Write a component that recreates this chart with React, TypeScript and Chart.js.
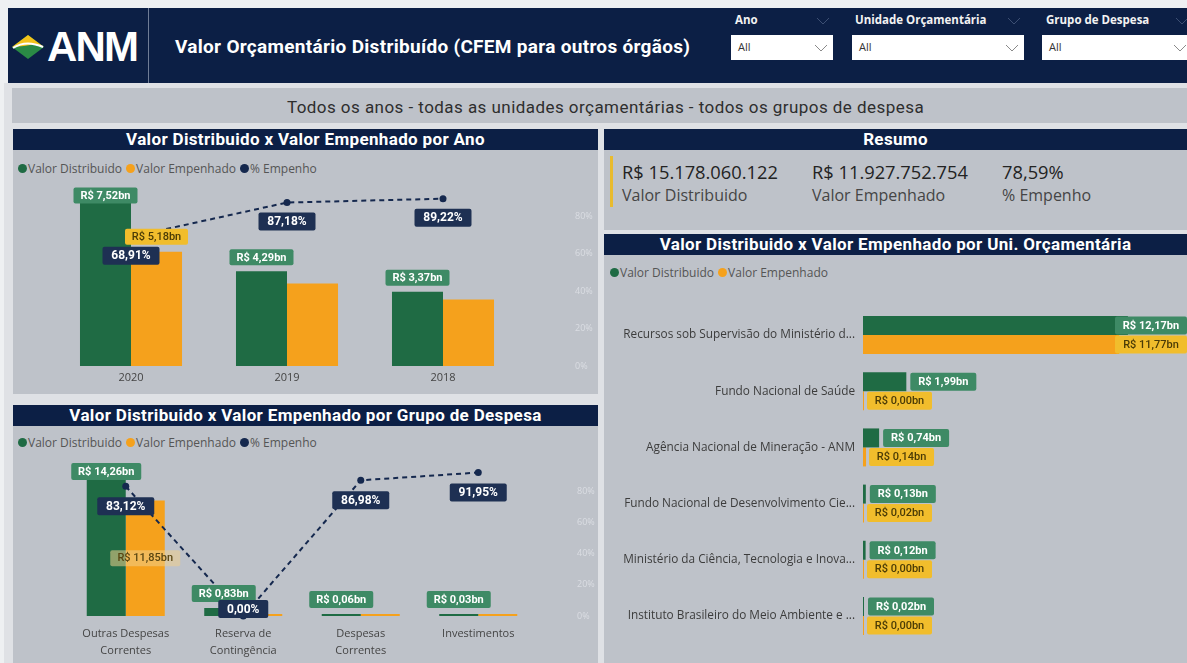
import React, { useEffect, useRef } from "react";
import { Chart, registerables } from "chart.js";

Chart.register(...registerables);

// ---------------- data ----------------
const anos = ["2020", "2019", "2018"];
const anoDistribuido = [7.52, 4.29, 3.37];
const anoEmpenhado = [5.18, 3.74, 3.01];
const anoPctEmpenho = [68.91, 87.18, 89.22];

const grupos = [["Outras Despesas", "Correntes"], ["Reserva de", "Contingência"], ["Despesas", "Correntes"], "Investimentos"];
const grupoDistribuido = [14.26, 0.83, 0.06, 0.03];
const grupoEmpenhado = [11.85, 0.0, 0.05, 0.03];
const grupoPctEmpenho = [83.12, 0.0, 86.98, 91.95];

const unidades = [
  "Recursos sob Supervisão do Ministério d...",
  "Fundo Nacional de Saúde",
  "Agência Nacional de Mineração - ANM",
  "Fundo Nacional de Desenvolvimento Cie...",
  "Ministério da Ciência, Tecnologia e Inova...",
  "Instituto Brasileiro do Meio Ambiente e ...",
];
const unidadeDistribuido = [12.17, 1.99, 0.74, 0.13, 0.12, 0.02];
const unidadeEmpenhado = [11.77, 0.0, 0.14, 0.02, 0.0, 0.0];

const pctTicks = [0, 20, 40, 60, 80];
const resumoValores = ["R$ 15.178.060.122", "R$ 11.927.752.754", "78,59%"];
const resumoRotulos = ["Valor Distribuido", "Valor Empenhado", "% Empenho"];
const filtros = ["Ano", "Unidade Orçamentária", "Grupo de Despesa"];
const legendaSeries = ["Valor Distribuido", "Valor Empenhado", "% Empenho"];

// ---------------- styles ----------------
const NAVY = "#0c1f45";
const GREEN = "#1f6b44";
const ORANGE = "#f5a11c";
const LINE = "#15284e";
const PANEL = "#bec2c9";
const SANS = '"Open Sans", sans-serif';
const DIN = 'Roboto, sans-serif';

const fmtBn = (v: number) => "R$ " + v.toFixed(2).replace(".", ",") + "bn";
const fmtPct = (v: number) => v.toFixed(2).replace(".", ",") + "%";

const greenLabel = { font: `700 11px ${DIN}`, bg: "#3e8a65", color: "#ffffff", padX: 7, h: 16 };
const orangeLabel = { font: `500 11px ${DIN}`, bg: "#f1bd2c", color: "#4a3b06", padX: 7, h: 16 };
const navyLabel = { font: `700 12px ${DIN}`, bg: "#1e3053", color: "#ffffff", padX: 9, h: 18 };

const boxLabelPlugin = {
  id: "boxLabels",
  afterDatasetsDraw(chart: any) {
    const { ctx, chartArea } = chart;
    const list = chart.data.datasets
      .map((ds: any, i: number) => ({ ds, i }))
      .filter((d: any) => d.ds.boxLabel)
      .sort((a: any, b: any) => a.ds.boxLabel.z - b.ds.boxLabel.z);
    list.forEach(({ ds, i }: any) => {
      const L = ds.boxLabel;
      const meta = chart.getDatasetMeta(i);
      meta.data.forEach((el: any, j: number) => {
        const v = ds.data[j] as number;
        if (L.min !== undefined && v < L.min) return;
        if (L.only && !L.only.includes(j)) return;
        const text = L.fmt(v);
        ctx.save();
        ctx.font = L.font;
        const w = Math.round(ctx.measureText(text).width + L.padX * 2);
        const h = L.h;
        let x = el.x - w / 2;
        let y = 0;
        if (L.mode === "above") {
          y = Math.max(el.y - L.gap - h, chartArea.top + (L.clampTop ?? 0));
        } else if (L.mode === "below") {
          y = Math.min(el.y + L.gap, chartArea.bottom + (L.clampBottom ?? 0) - h);
        } else if (L.mode === "center") {
          y = (el.y + el.base) / 2 - h / 2;
        } else {
          x = el.x + L.gap;
          y = el.y - h / 2;
          if (x + w > chart.width) x = chart.width - w;
        }
        ctx.fillStyle = L.bg;
        ctx.beginPath();
        (ctx as any).roundRect(x, y, w, h, 2);
        ctx.fill();
        ctx.fillStyle = L.color;
        ctx.textAlign = "center";
        ctx.textBaseline = "middle";
        ctx.fillText(text, x + w / 2, y + h / 2 + 0.5);
        ctx.restore();
      });
    });
  },
};

function useChart(ref: React.RefObject<HTMLCanvasElement>, make: () => any) {
  useEffect(() => {
    const c = new Chart(ref.current as HTMLCanvasElement, make());
    return () => c.destroy();
  }, []);
}

const pctAxis = (padding: number, width: number) => ({
  position: "right",
  min: 0,
  max: 100,
  grid: { display: false, drawTicks: false },
  border: { display: false },
  ticks: {
    stepSize: 20,
    padding,
    color: "rgba(236,239,243,0.6)",
    font: { family: SANS, size: 9 },
    callback: (v: any) => (pctTicks.includes(v) ? v + "%" : ""),
  },
  afterFit: (s: any) => {
    s.width = width;
    s.paddingTop = 0;
    s.paddingBottom = 0;
  },
});

function AnoChart() {
  const ref = useRef<HTMLCanvasElement>(null);
  useChart(ref, () => ({
    type: "bar",
    data: {
      labels: anos,
      datasets: [
        {
          type: "line",
          label: legendaSeries[2],
          data: anoPctEmpenho,
          yAxisID: "y1",
          order: 0,
          borderColor: LINE,
          backgroundColor: LINE,
          borderWidth: 2,
          borderDash: [5, 4],
          pointRadius: 3.5,
          pointBackgroundColor: LINE,
          pointBorderWidth: 0,
          boxLabel: { ...navyLabel, mode: "below", gap: 10, z: 3, fmt: fmtPct, clampBottom: 2 },
        },
        {
          label: legendaSeries[0],
          data: anoDistribuido,
          yAxisID: "y",
          order: 1,
          backgroundColor: GREEN,
          categoryPercentage: 0.654,
          barPercentage: 1,
          boxLabel: { ...greenLabel, mode: "above", gap: 6, z: 1, fmt: fmtBn, clampTop: 9 },
        },
        {
          label: legendaSeries[1],
          data: anoEmpenhado,
          yAxisID: "y",
          order: 1,
          backgroundColor: ORANGE,
          categoryPercentage: 0.654,
          barPercentage: 1,
          boxLabel: { ...orangeLabel, mode: "above", gap: 7, z: 2, fmt: fmtBn, clampTop: 9, only: [0] },
        },
      ],
    },
    options: {
      responsive: false,
      animation: false,
      layout: { padding: { top: 29.5, left: 40, right: 0, bottom: 0 } },
      plugins: { legend: { display: false }, tooltip: { enabled: false } },
      scales: {
        x: {
          grid: { display: false, drawTicks: false },
          border: { display: false },
          ticks: { color: "#444", padding: 5.5, font: { family: SANS, size: 11, lineHeight: 1.2 } },
          afterFit: (s: any) => {
            s.height = 27;
          },
        },
        y: { display: false, min: 0, max: 8.5 },
        y1: pctAxis(54, 77),
      },
    },
    plugins: [boxLabelPlugin],
  }));
  return <canvas ref={ref} width={585} height={244} style={{ position: "absolute", left: 13, top: 149 }} />;
}

function GrupoChart() {
  const ref = useRef<HTMLCanvasElement>(null);
  useChart(ref, () => ({
    type: "bar",
    data: {
      labels: grupos,
      datasets: [
        {
          type: "line",
          label: legendaSeries[2],
          data: grupoPctEmpenho,
          yAxisID: "y1",
          order: 0,
          borderColor: LINE,
          backgroundColor: LINE,
          borderWidth: 2,
          borderDash: [5, 4],
          pointRadius: 3.5,
          pointBackgroundColor: LINE,
          pointBorderWidth: 0,
          clip: false,
          boxLabel: { ...navyLabel, mode: "below", gap: 11, z: 3, fmt: fmtPct, clampBottom: 2 },
        },
        {
          label: legendaSeries[0],
          data: grupoDistribuido,
          yAxisID: "y",
          order: 1,
          backgroundColor: GREEN,
          categoryPercentage: 0.664,
          barPercentage: 1,
          minBarLength: 2,
          boxLabel: { ...greenLabel, h: 17, mode: "above", gap: 6, z: 1, fmt: fmtBn, clampTop: 3 },
        },
        {
          label: legendaSeries[1],
          data: grupoEmpenhado,
          yAxisID: "y",
          order: 1,
          backgroundColor: ORANGE,
          categoryPercentage: 0.664,
          barPercentage: 1,
          minBarLength: 2,
          boxLabel: {
            ...orangeLabel,
            bg: "rgba(238,208,140,0.55)",
            color: "#5a4612",
            mode: "center",
            gap: 0,
            z: 2,
            min: 1,
            fmt: fmtBn,
          },
        },
      ],
    },
    options: {
      responsive: false,
      animation: false,
      layout: { padding: { top: 35, left: 54, right: 0, bottom: 0 } },
      plugins: { legend: { display: false }, tooltip: { enabled: false } },
      scales: {
        x: {
          grid: { display: false, drawTicks: false },
          border: { display: false },
          ticks: {
            color: "#444",
            padding: 9.5,
            maxRotation: 0,
            autoSkip: false,
            font: { family: SANS, size: 11, lineHeight: 1.55 },
          },
          afterFit: (s: any) => {
            s.height = 47;
          },
        },
        y: { display: false, min: 0, max: 16 },
        y1: pctAxis(40, 61),
      },
    },
    plugins: [boxLabelPlugin],
  }));
  return <canvas ref={ref} width={585} height={238} style={{ position: "absolute", left: 13, top: 425 }} />;
}

function UnidadeChart() {
  const ref = useRef<HTMLCanvasElement>(null);
  useChart(ref, () => ({
    type: "bar",
    data: {
      labels: unidades,
      datasets: [
        {
          label: legendaSeries[0],
          data: unidadeDistribuido,
          backgroundColor: GREEN,
          categoryPercentage: 0.676,
          barPercentage: 1,
          minBarLength: 1,
          boxLabel: { ...greenLabel, h: 18, padX: 8, mode: "right", gap: 4, z: 1, fmt: fmtBn },
        },
        {
          label: legendaSeries[1],
          data: unidadeEmpenhado,
          backgroundColor: ORANGE,
          categoryPercentage: 0.676,
          barPercentage: 1,
          minBarLength: 1,
          boxLabel: { ...orangeLabel, h: 18, padX: 8, mode: "right", gap: 3, z: 2, fmt: fmtBn },
        },
      ],
    },
    options: {
      indexAxis: "y",
      responsive: false,
      animation: false,
      layout: { padding: { top: 53, left: 0, right: 4, bottom: 19 } },
      plugins: { legend: { display: false }, tooltip: { enabled: false } },
      scales: {
        x: { display: false, min: 0, max: 14.7 },
        y: {
          grid: { display: false, drawTicks: false },
          border: { display: false },
          ticks: { color: "#3c3c3c", padding: 8, autoSkip: false, font: { family: SANS, size: 11.8 } },
          afterFit: (s: any) => {
            s.width = 258;
            s.paddingTop = 0;
            s.paddingBottom = 0;
          },
        },
      },
    },
    plugins: [boxLabelPlugin],
  }));
  return <canvas ref={ref} width={582} height={409} style={{ position: "absolute", left: 605, top: 254 }} />;
}

// ---------------- layout pieces ----------------
function Legend({ left, top, n }: { left: number; top: number; n: number }) {
  const colors = [GREEN, ORANGE, LINE];
  return (
    <div
      style={{
        position: "absolute",
        left,
        top: top - 8,
        height: 16,
        display: "flex",
        alignItems: "center",
        fontFamily: SANS,
        fontSize: 12,
        color: "#555",
        whiteSpace: "nowrap",
      }}
    >
      {legendaSeries.slice(0, n).map((l, i) => (
        <span key={l} style={{ display: "flex", alignItems: "center", marginRight: 4 }}>
          <span style={{ width: 9, height: 9, borderRadius: "50%", background: colors[i], marginRight: 1 }} />
          {l}
        </span>
      ))}
    </div>
  );
}

function TitleBar({ left, top, width, text }: { left: number; top: number; width: number; text: string }) {
  return (
    <div
      style={{
        position: "absolute",
        left,
        top,
        width,
        height: 21,
        background: NAVY,
        color: "#fff",
        fontFamily: DIN,
        fontWeight: 700,
        fontSize: 17,
        letterSpacing: 0.35,
        lineHeight: "21px",
        textAlign: "center",
        whiteSpace: "nowrap",
      }}
    >
      {text}
    </div>
  );
}

function Box({ left, top, width, height, bg }: any) {
  return <div style={{ position: "absolute", left, top, width, height, background: bg }} />;
}

function Chevron({ left, top, color }: { left: number; top: number; color: string }) {
  return (
    <svg width={14} height={8} style={{ position: "absolute", left, top }}>
      <polyline points="1,1 7,7 13,1" fill="none" stroke={color} strokeWidth={1} />
    </svg>
  );
}

export default function App() {
  const filterLabelX = [735, 855, 1046];
  const filterBox = [
    [731, 102],
    [852, 172],
    [1042, 150],
  ];
  const resumoX = [622, 812, 1002];
  return (
    <div
      style={{
        position: "relative",
        width: 1187,
        height: 663,
        overflow: "hidden",
        background: "#eef0f2",
        fontFamily: SANS,
      }}
    >
      <style>{`body{margin:0;background:#eef0f2;}`}</style>
      {/* header */}
      <Box left={8} top={8} width={1179} height={75} bg={NAVY} />
      <svg width={36} height={26} style={{ position: "absolute", left: 10, top: 34 }}>
        <polygon points="2,13 18,1 34,13 18,25" fill="#2a8a45" />
        <polygon points="2,13 18,1 34,13 26,10 14,12" fill="#f3c21a" />
        <path d="M3,14 C12,8 22,8 33,13" fill="none" stroke="#ffffff" strokeWidth={2} />
      </svg>
      <div
        style={{
          position: "absolute",
          left: 47,
          top: 23,
          color: "#fff",
          fontFamily: '"Liberation Sans", Arial, sans-serif',
          fontWeight: 700,
          fontSize: 42,
          lineHeight: "48px",
          letterSpacing: -1.8,
        }}
      >
        ANM
      </div>
      <Box left={148} top={8} width={1} height={75} bg="#6f7c96" />
      <div
        style={{
          position: "absolute",
          left: 175,
          top: 34,
          color: "#fff",
          fontFamily: DIN,
          fontWeight: 700,
          fontSize: 19,
          letterSpacing: 0.3,
          lineHeight: "26px",
          whiteSpace: "nowrap",
        }}
      >
        Valor Orçamentário Distribuído (CFEM para outros órgãos)
      </div>
      {filtros.map((f, i) => (
        <React.Fragment key={f}>
          <div
            style={{
              position: "absolute",
              left: filterLabelX[i],
              top: 12,
              color: "#f2f2f2",
              fontFamily: SANS,
              fontWeight: 700,
              fontSize: 11.5,
              lineHeight: "16px",
              whiteSpace: "nowrap",
            }}
          >
            {f}
          </div>
          <Chevron left={filterBox[i][0] + filterBox[i][1] - 17} top={17} color="#3d4f73" />
          <Box left={filterBox[i][0]} top={35} width={filterBox[i][1]} height={25} bg="#ffffff" />
          <div
            style={{
              position: "absolute",
              left: filterBox[i][0] + 7,
              top: 39,
              fontSize: 11,
              lineHeight: "16px",
              color: "#333",
            }}
          >
            All
          </div>
          <Chevron left={filterBox[i][0] + filterBox[i][1] - 19} top={44} color="#8a8a8a" />
        </React.Fragment>
      ))}

      {/* report body */}
      <Box left={4} top={83} width={1183} height={580} bg="#dfe1e5" />
      <Box left={12} top={88} width={1175} height={35} bg={PANEL} />
      <div
        style={{
          position: "absolute",
          left: 12,
          top: 95,
          width: 1187,
          textAlign: "center",
          fontFamily: DIN,
          fontSize: 17,
          letterSpacing: 0.45,
          lineHeight: "24px",
          color: "#2e2e2e",
          whiteSpace: "nowrap",
        }}
      >
        Todos os anos - todas as unidades orçamentárias - todos os grupos de despesa
      </div>

      {/* top-left panel */}
      <TitleBar left={13} top={129} width={585} text="Valor Distribuido x Valor Empenhado por Ano" />
      <Box left={13} top={150} width={585} height={244} bg={PANEL} />
      <Legend left={18} top={168} n={3} />
      <AnoChart />

      {/* bottom-left panel */}
      <TitleBar left={13} top={405} width={585} text="Valor Distribuido x Valor Empenhado por Grupo de Despesa" />
      <Box left={13} top={426} width={585} height={237} bg={PANEL} />
      <Legend left={18} top={442} n={3} />
      <GrupoChart />

      {/* resumo */}
      <TitleBar left={604} top={129} width={583} text="Resumo" />
      <Box left={604} top={150} width={583} height={80} bg={PANEL} />
      <Box left={610} top={156} width={3} height={51} bg="#e9bb2e" />
      {resumoValores.map((v, i) => (
        <React.Fragment key={v}>
          <div
            style={{
              position: "absolute",
              left: resumoX[i],
              top: 159,
              fontSize: 18.3,
              lineHeight: "26px",
              color: "#232323",
              whiteSpace: "nowrap",
            }}
          >
            {v}
          </div>
          <div
            style={{
              position: "absolute",
              left: resumoX[i],
              top: 183,
              fontSize: 16,
              lineHeight: "24px",
              color: "#454545",
              whiteSpace: "nowrap",
            }}
          >
            {resumoRotulos[i]}
          </div>
        </React.Fragment>
      ))}

      {/* right chart panel */}
      <TitleBar left={604} top={234} width={583} text="Valor Distribuido x Valor Empenhado por Uni. Orçamentária" />
      <Box left={604} top={255} width={583} height={408} bg={PANEL} />
      <Legend left={610} top={272} n={2} />
      <UnidadeChart />
    </div>
  );
}
